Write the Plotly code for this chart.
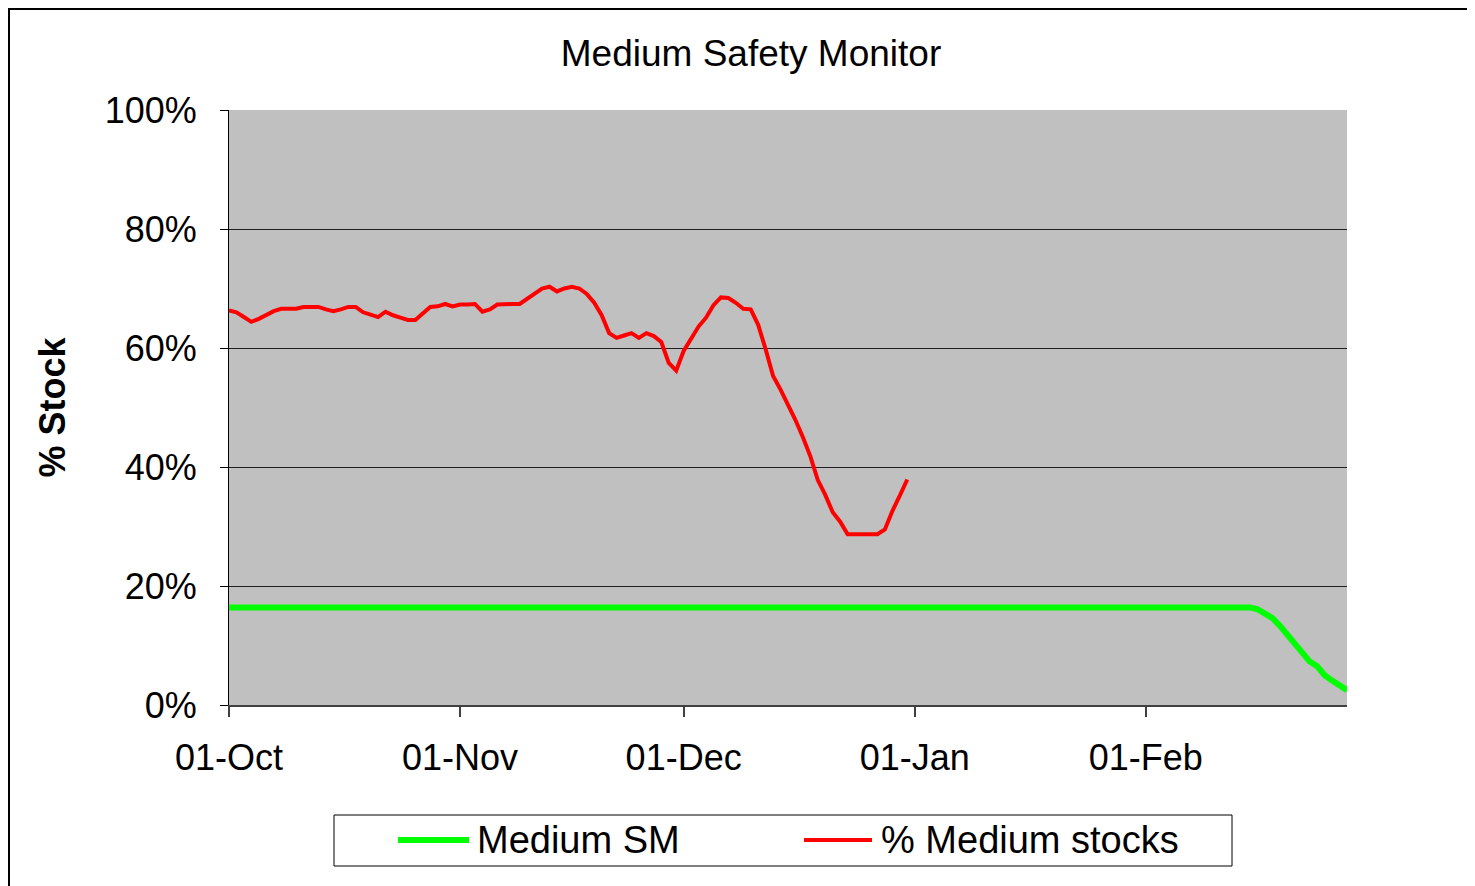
import pandas as pd
import plotly.graph_objects as go

OUT_HTML = 'out.html'

# % Medium stocks, one value per day from 01-Oct to 31-Dec
stock_start = '2008-10-01'
stock_oct = [66.3, 66.0, 65.2, 64.4, 64.9, 65.6, 66.2, 66.6, 66.6, 66.6,
             66.9, 66.9, 66.9, 66.5, 66.2, 66.5, 66.9, 66.9, 66.0, 65.6,
             65.2, 66.1, 65.5, 65.1, 64.7, 64.7, 65.8, 66.9, 67.0, 67.4, 67.0]
stock_nov = [67.3, 67.3, 67.4, 66.1, 66.5, 67.3, 67.4, 67.4, 67.4, 68.3,
             69.3, 70.0, 70.3, 69.5, 70.0, 70.3, 70.0, 69.1, 67.6, 65.5,
             62.5, 61.7, 62.1, 62.5, 61.7, 62.5, 62.0, 61.0, 57.5, 56.2]
stock_dec = [59.5, 61.7, 63.6, 65.1, 67.2, 68.5, 68.4, 67.6, 66.6, 66.5,
             63.9, 59.8, 55.3, 53.0, 50.6, 47.9, 45.0, 41.8, 37.8, 35.3,
             32.4, 30.8, 28.7, 28.7, 28.7, 28.7, 28.7, 29.5, 32.6, 35.2, 37.9]
stock_vals = stock_oct + stock_nov + stock_dec

# Medium SM (safety margin): flat until mid Feb, then falls
sm_dates = ['2008-10-01', '2009-02-15', '2009-02-16', '2009-02-17', '2009-02-18',
            '2009-02-19', '2009-02-20', '2009-02-21', '2009-02-22', '2009-02-23',
            '2009-02-24', '2009-02-25', '2009-02-26', '2009-02-27', '2009-02-28']
sm_vals = [16.4, 16.4, 16.1, 15.4, 14.6, 13.3, 11.7, 10.1, 8.6, 7.3,
           6.5, 5.0, 4.1, 3.3, 2.5]

stock_dates = pd.date_range(stock_start, periods=len(stock_vals), freq='D')

FONT = 'Liberation Sans, Arial, sans-serif'

# the page adds an 8px body margin, so screen pixels are shifted by OFF
OFF = 8
# plot area in screen pixels (used to place the hand-drawn legend + frame)
L, R, T, B = 229, 1347, 110, 705
W, H = R - L, B - T


def px_x(x):
    return (x - L) / W


def px_y(y):
    return (B - y) / H


fig = go.Figure()
fig.add_trace(go.Scatter(x=stock_dates, y=stock_vals, mode='lines', name='% Medium stocks',
                         line=dict(color='#FF0000', width=4)))
fig.add_trace(go.Scatter(x=sm_dates, y=sm_vals, mode='lines', name='Medium SM',
                         line=dict(color='#00FF00', width=6)))

fig.update_layout(
    width=1475, height=886,
    margin=dict(l=L - OFF, r=1475 - (R - OFF), t=T - OFF, b=886 - (B - OFF)),
    paper_bgcolor='white', plot_bgcolor='#C0C0C0',
    showlegend=False,
    font=dict(family=FONT, color='black', size=36),
    title=dict(text='Medium Safety Monitor', x=(751 - OFF) / 1475, xref='container', xanchor='center',
               y=1 - (53 - OFF) / 886, yref='container', yanchor='middle',
               font=dict(size=37, family=FONT, color='black')),
)

fig.update_xaxes(type='date', range=['2008-10-01', '2009-02-28'],
                 tick0='2008-10-01', dtick='M1', tickformat='%d-%b',
                 ticks='outside', ticklen=10, tickcolor='#404040', tickwidth=2,
                 ticklabelstandoff=10,
                 showline=True, linecolor='#404040', linewidth=2,
                 showgrid=False, zeroline=False,
                 tickfont=dict(size=36, family=FONT, color='black'))

fig.update_yaxes(range=[0, 100], tickvals=[0, 20, 40, 60, 80, 100],
                 ticktext=['0%', '20%', '40%', '60%', '80%', '100%'],
                 ticks='outside', ticklen=8, tickcolor='black', tickwidth=1,
                 ticklabelstandoff=16,
                 showline=True, linecolor='black', linewidth=1,
                 showgrid=True, gridcolor='#202020', gridwidth=1, zeroline=False,
                 tickfont=dict(size=36, family=FONT, color='black'))

# y axis title
fig.add_annotation(text='<b>% Stock</b>', textangle=-90, xref='paper', yref='paper',
                   x=px_x(52), y=0.5, xanchor='center', yanchor='middle', showarrow=False,
                   font=dict(size=36, family=FONT, color='black'))

# outer chart frame (top edge kept just inside the figure so it is not clipped)
fig.add_shape(type='rect', xref='paper', yref='paper', layer='above',
              x0=px_x(9), x1=px_x(1490), y0=px_y(900), y1=px_y(OFF + 1),
              line=dict(color='black', width=2), fillcolor='rgba(0,0,0,0)')

# legend box
fig.add_shape(type='rect', xref='paper', yref='paper',
              x0=px_x(334), x1=px_x(1232), y0=px_y(866), y1=px_y(815),
              line=dict(color='black', width=1), fillcolor='white')
fig.add_shape(type='line', xref='paper', yref='paper',
              x0=px_x(398), x1=px_x(469), y0=px_y(840), y1=px_y(840),
              line=dict(color='#00FF00', width=6))
fig.add_shape(type='line', xref='paper', yref='paper',
              x0=px_x(804), x1=px_x(872), y0=px_y(840), y1=px_y(840),
              line=dict(color='#FF0000', width=4))
fig.add_annotation(text='Medium SM', xref='paper', yref='paper', x=px_x(475), y=px_y(840),
                   xanchor='left', yanchor='middle', showarrow=False,
                   font=dict(size=38, family=FONT, color='black'))
fig.add_annotation(text='% Medium stocks', xref='paper', yref='paper', x=px_x(879), y=px_y(840),
                   xanchor='left', yanchor='middle', showarrow=False,
                   font=dict(size=38, family=FONT, color='black'))

fig.write_html(OUT_HTML)
